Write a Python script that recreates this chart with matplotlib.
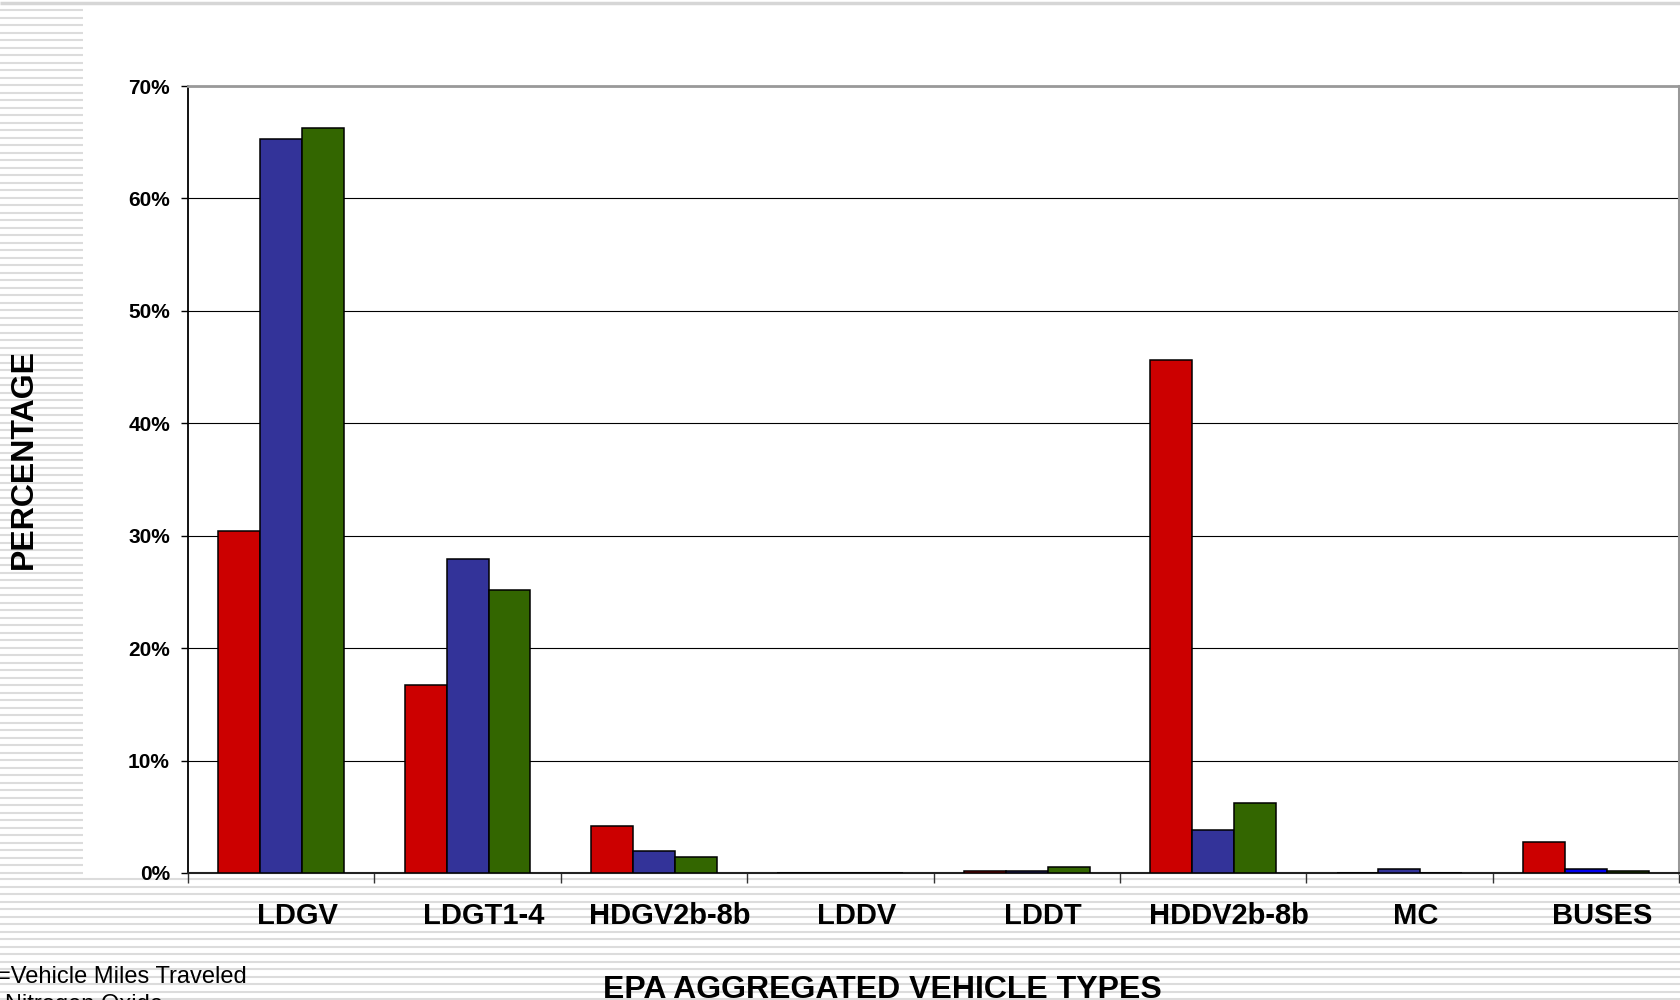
import numpy as np
import matplotlib
matplotlib.use("Agg")
import matplotlib.pyplot as plt
from matplotlib.ticker import FixedLocator, NullFormatter, FixedFormatter
import matplotlib.transforms as mtransforms

# данные (доли, %)
categories = ["LDGV", "LDGT1-4", "HDGV2b-8b", "LDDV", "LDDT", "HDDV2b-8b", "MC", "BUSES"]
vmt = [30.4, 16.7, 4.2, 0.0, 0.2, 45.6, 0.0, 2.8]
nox = [65.3, 27.9, 2.0, 0.0, 0.15, 3.8, 0.35, 0.35]
pm = [66.3, 25.2, 1.4, 0.0, 0.55, 6.2, 0.0, 0.15]
y_ticks = [0, 10, 20, 30, 40, 50, 60, 70]
y_tick_labels = ["0%", "10%", "20%", "30%", "40%", "50%", "60%", "70%"]

W, H = 1681, 1000
fig = plt.figure(figsize=(W / 100, H / 100), dpi=100)
plt.rcParams['font.family'] = ['Liberation Sans', 'DejaVu Sans']

# фон слайда с полосками (в пикселях)
bg = fig.add_axes([0, 0, 1, 1], zorder=-1)
bg.set_xlim(0, W)
bg.set_ylim(H, 0)
bg.axis("off")
stripe_col = "#dcdcdc"
ys_left = np.arange(10, 877, 7.5)
bg.hlines(ys_left, 0, 83, colors=stripe_col, linewidth=1.5)
ys_bottom = np.arange(879, H + 5, 7.5)
bg.hlines(ys_bottom, 0, W, colors=stripe_col, linewidth=1.5)
bg.hlines([2.5], 0, W, colors="#d6d6d6", linewidth=2.5)

# основной график
ax = fig.add_axes([188 / W, 1 - 873 / H, (1679 - 188) / W, (873 - 86) / H])
ax.set_facecolor("white")

x = np.arange(len(categories))
bw = 0.225
blue_cols = ["#333399"] * len(categories)
blue_cols[-1] = "#0000ee"
ax.bar(x - bw, vmt, bw, color="#cc0000", edgecolor="black", linewidth=1.1, zorder=3)
ax.bar(x, nox, bw, color=blue_cols, edgecolor="black", linewidth=1.1, zorder=3)
ax.bar(x + bw, pm, bw, color="#336600", edgecolor="black", linewidth=1.1, zorder=3)

ax.set_xlim(-0.5, len(categories) - 0.5)
ax.set_ylim(0, 70)

ax.set_yticks(y_ticks)
ax.set_yticklabels(y_tick_labels, fontsize=15, fontweight="bold")
ax.tick_params(axis="y", direction="out", length=5, width=1, pad=8)
ax.yaxis.grid(True, color="black", linewidth=0.8)
ax.set_axisbelow(True)

# границы категорий — основные деления, подписи — на второстепенных
ax.xaxis.set_major_locator(FixedLocator(np.arange(-0.5, len(categories), 1.0)))
ax.xaxis.set_major_formatter(NullFormatter())
ax.xaxis.set_minor_locator(FixedLocator(x))
ax.xaxis.set_minor_formatter(FixedFormatter(categories))
ax.tick_params(axis="x", which="major", direction="out", length=7, width=1, color="#333333")
ax.tick_params(axis="x", which="minor", length=0, pad=21, labelsize=21)
offset = mtransforms.ScaledTranslation(16 / 100, 0, fig.dpi_scale_trans)
for lab in ax.xaxis.get_minorticklabels():
    lab.set_fontweight("bold")
    lab.set_transform(lab.get_transform() + offset)

ax.spines["left"].set_color("black")
ax.spines["left"].set_linewidth(1.3)
ax.spines["bottom"].set_color("#222222")
ax.spines["bottom"].set_linewidth(1.5)
ax.spines["top"].set_color("#999999")
ax.spines["top"].set_linewidth(2)
ax.spines["right"].set_color("#999999")
ax.spines["right"].set_linewidth(2.2)

# подписи осей и обрезанная легенда
bg.text(24, 459, "PERCENTAGE", rotation=90, ha="center", va="center",
        fontsize=23, fontweight="bold")
bg.text(882, 998, "EPA AGGREGATED VEHICLE TYPES", ha="center", va="baseline",
        fontsize=23, fontweight="bold")
bg.text(-3, 983, "=Vehicle Miles Traveled", ha="left", va="baseline", fontsize=17)
bg.text(5, 1011, "Nitrogen Oxide", ha="left", va="baseline", fontsize=17)

fig.savefig("out.png", dpi=100)
